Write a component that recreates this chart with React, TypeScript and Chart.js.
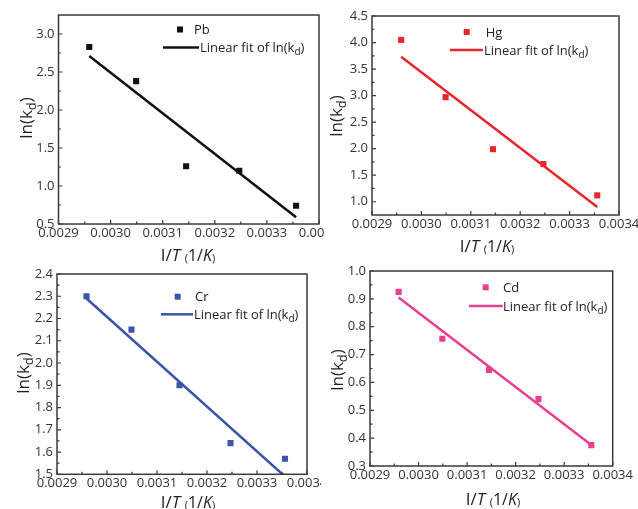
import React, { useEffect, useRef } from "react";
import { Chart, registerables } from "chart.js";
Chart.register(...registerables);

// ---- data ----
const invT = [0.002959, 0.003049, 0.003145, 0.003247, 0.003356];
const fitX = [0.002959, 0.003356];

const pbValues = [2.83, 2.38, 1.26, 1.2, 0.74];
const pbFit = [2.71, 0.59];
const hgValues = [4.05, 2.97, 1.99, 1.71, 1.12];
const hgFit = [3.73, 0.9];
const crValues = [2.3, 2.15, 1.9, 1.64, 1.57];
const crFit = [2.29, 1.49];
const cdValues = [0.925, 0.757, 0.645, 0.54, 0.375];
const cdFit = [0.905, 0.375];

const xMin = 0.0029;
const xMax = 0.0034;
const xStep = 0.0001;

const FONT = '"Open Sans", "DejaVu Sans", sans-serif';

type Part = { t: string; size: number; italic?: boolean; dy?: number };

function partsWidth(ctx: CanvasRenderingContext2D, parts: Part[]) {
  let w = 0;
  for (const p of parts) {
    ctx.font = `${p.italic ? "italic " : ""}${p.size}px ${FONT}`;
    w += ctx.measureText(p.t).width;
  }
  return w;
}

function drawParts(ctx: CanvasRenderingContext2D, parts: Part[], x: number, y: number) {
  let cx = x;
  ctx.textBaseline = "alphabetic";
  ctx.textAlign = "left";
  for (const p of parts) {
    ctx.font = `${p.italic ? "italic " : ""}${p.size}px ${FONT}`;
    ctx.fillText(p.t, cx, y + (p.dy || 0));
    cx += ctx.measureText(p.t).width;
  }
}

const yTitleParts: Part[] = [
  { t: "ln(k", size: 17 },
  { t: "d", size: 13, dy: 4 },
  { t: ")", size: 17 },
];
const xTitleParts: Part[] = [
  { t: "I/", size: 17 },
  { t: "T", size: 17, italic: true },
  { t: " ", size: 17 },
  { t: "(", size: 11, dy: 1 },
  { t: "1/", size: 16 },
  { t: "K", size: 16, italic: true },
  { t: ")", size: 11, dy: 1 },
];
const fitLegendParts: Part[] = [
  { t: "Linear fit of ln(k", size: 13 },
  { t: "d", size: 10, dy: 3 },
  { t: ")", size: 13 },
];

const decorPlugin = {
  id: "decor",
  afterDraw(chart: any, _args: any, opts: any) {
    const { ctx, chartArea: a, scales } = chart;
    const p = opts.p;
    ctx.save();
    ctx.strokeStyle = "#3a3a3a";
    ctx.lineWidth = 1.5;
    ctx.strokeRect(a.left, a.top, a.right - a.left, a.bottom - a.top);
    const xs = scales.x;
    const ys = scales.y;
    ctx.lineWidth = 1.2;
    ctx.beginPath();
    xs.ticks.forEach((t: any, i: number) => {
      const px = xs.getPixelForValue(t.value);
      ctx.moveTo(px, a.bottom);
      ctx.lineTo(px, a.bottom - 4);
      if (i < xs.ticks.length - 1) {
        const m = xs.getPixelForValue((t.value + xs.ticks[i + 1].value) / 2);
        ctx.moveTo(m, a.bottom);
        ctx.lineTo(m, a.bottom - 2.5);
      }
    });
    ys.ticks.forEach((t: any, i: number) => {
      const py = ys.getPixelForValue(t.value);
      ctx.moveTo(a.left, py);
      ctx.lineTo(a.left + 4, py);
      if (i < ys.ticks.length - 1) {
        const m = ys.getPixelForValue((t.value + ys.ticks[i + 1].value) / 2);
        ctx.moveTo(a.left, m);
        ctx.lineTo(a.left + 2.5, m);
      }
    });
    ctx.stroke();

    ctx.fillStyle = "#222";
    const xw = partsWidth(ctx, xTitleParts);
    drawParts(ctx, xTitleParts, p.xTitle.x - xw / 2, p.xTitle.y);
    const yw = partsWidth(ctx, yTitleParts);
    ctx.save();
    ctx.translate(p.yTitle.x, p.yTitle.y);
    ctx.rotate(-Math.PI / 2);
    drawParts(ctx, yTitleParts, -yw / 2, 0);
    ctx.restore();

    const L = p.legend;
    ctx.fillStyle = p.color;
    ctx.fillRect(L.mx - 3, L.my - 3, 6, 6);
    ctx.fillStyle = "#222";
    drawParts(ctx, [{ t: p.name, size: 13 }], L.tx, L.my + 4.5);
    ctx.strokeStyle = p.color;
    ctx.lineWidth = 2.5;
    ctx.beginPath();
    ctx.moveTo(L.lx1, L.ly);
    ctx.lineTo(L.lx2, L.ly);
    ctx.stroke();
    ctx.fillStyle = "#222";
    drawParts(ctx, fitLegendParts, L.ltx, L.ly + 4.5);
    ctx.restore();
  },
};

type PanelDef = {
  name: string;
  values: number[];
  fit: number[];
  color: string;
  yMin: number;
  yMax: number;
  yStep: number;
  box: { left: number; top: number; w: number; h: number };
  plot: { left: number; top: number; right: number; bottom: number };
  xTitle: { x: number; y: number };
  yTitle: { x: number; y: number };
  legend: { mx: number; my: number; tx: number; lx1: number; lx2: number; ly: number; ltx: number };
};

const panels: PanelDef[] = [
  {
    name: "Pb", values: pbValues, fit: pbFit, color: "#111111",
    yMin: 0.5, yMax: 3.25, yStep: 0.5,
    box: { left: 0, top: 0, w: 325, h: 268 },
    plot: { left: 58.5, top: 15, right: 319, bottom: 224 },
    xTitle: { x: 188, y: 261 },
    yTitle: { x: 32, y: 118 },
    legend: { mx: 180, my: 29.5, tx: 194, lx1: 163, lx2: 199, ly: 47.5, ltx: 200 },
  },
  {
    name: "Hg", values: hgValues, fit: hgFit, color: "#e8262b",
    yMin: 0.75, yMax: 4.5, yStep: 0.5,
    box: { left: 326, top: 0, w: 312, h: 262 },
    plot: { left: 46, top: 16, right: 293, bottom: 215 },
    xTitle: { x: 161, y: 252 },
    yTitle: { x: 16, y: 116 },
    legend: { mx: 140.7, my: 32, tx: 159.7, lx1: 124, lx2: 157, ly: 50, ltx: 158 },
  },
  {
    name: "Cr", values: crValues, fit: crFit, color: "#3b55a6",
    yMin: 1.5, yMax: 2.4, yStep: 0.1,
    box: { left: 0, top: 264, w: 321, h: 245 },
    plot: { left: 57, top: 10, right: 307, bottom: 210.3 },
    xTitle: { x: 188, y: 244 },
    yTitle: { x: 29, y: 109 },
    legend: { mx: 177.7, my: 32.7, tx: 195, lx1: 161, lx2: 193, ly: 50.3, ltx: 194 },
  },
  {
    name: "Cd", values: cdValues, fit: cdFit, color: "#e8408f",
    yMin: 0.3, yMax: 1.0, yStep: 0.1,
    box: { left: 322, top: 264, w: 316, h: 245 },
    plot: { left: 48, top: 7, right: 290.7, bottom: 202 },
    xTitle: { x: 171, y: 241 },
    yTitle: { x: 21, y: 106 },
    legend: { mx: 163.7, my: 23.3, tx: 181, lx1: 147, lx2: 180.7, ly: 42, ltx: 181 },
  },
];

function Panel({ p }: { p: PanelDef }) {
  const ref = useRef<HTMLCanvasElement | null>(null);
  useEffect(() => {
    if (!ref.current) return;
    const W = p.box.w;
    const H = p.box.h;
    const chart = new Chart(ref.current, {
      type: "scatter",
      data: {
        datasets: [
          {
            label: "fit",
            data: fitX.map((x, i) => ({ x, y: p.fit[i] })),
            showLine: true,
            borderColor: p.color,
            borderWidth: 2.5,
            pointRadius: 0,
          } as any,
          {
            label: p.name,
            data: invT.map((x, i) => ({ x, y: p.values[i] })),
            pointStyle: "rect",
            pointRadius: 4.3,
            pointBorderWidth: 0,
            backgroundColor: p.color,
            borderColor: p.color,
          } as any,
        ],
      },
      options: {
        responsive: false,
        animation: false,
        layout: { padding: { left: 0, top: p.plot.top, right: W - p.plot.right, bottom: 0 } },
        plugins: {
          legend: { display: false },
          tooltip: { enabled: false },
          decor: { p },
        } as any,
        scales: {
          x: {
            type: "linear",
            min: xMin,
            max: xMax,
            grid: { display: false, drawTicks: false },
            border: { display: false },
            ticks: {
              stepSize: xStep,
              autoSkip: false,
              maxRotation: 0,
              includeBounds: false,
              padding: 1,
              color: "#333",
              font: { family: FONT, size: 13 },
              callback: (v: any) => Number(v).toFixed(4),
            },
            afterFit: (s: any) => {
              s.height = H - p.plot.bottom;
              s.paddingLeft = 0;
              s.paddingRight = 0;
            },
          },
          y: {
            type: "linear",
            min: p.yMin,
            max: p.yMax,
            grid: { display: false, drawTicks: false },
            border: { display: false },
            ticks: {
              stepSize: p.yStep,
              autoSkip: false,
              includeBounds: false,
              padding: 4,
              color: "#333",
              font: { family: FONT, size: 13 },
              callback: (v: any) => Number(v).toFixed(1),
            },
            afterFit: (s: any) => {
              s.width = p.plot.left;
              s.paddingTop = 0;
              s.paddingBottom = 0;
            },
          },
        } as any,
      },
      plugins: [decorPlugin as any],
    });
    return () => chart.destroy();
  }, [p]);
  return (
    <div
      style={{
        position: "absolute",
        left: p.box.left,
        top: p.box.top,
        width: p.box.w,
        height: p.box.h,
        overflow: "hidden",
      }}
    >
      <canvas ref={ref} width={p.box.w} height={p.box.h} style={{ width: p.box.w, height: p.box.h, display: "block" }} />
    </div>
  );
}

export default function App() {
  return (
    <div
      style={{
        position: "absolute",
        left: 0,
        top: 0,
        width: 638,
        height: 509,
        background: "#fff",
        overflow: "hidden",
      }}
    >
      {panels.map((p) => (
        <Panel key={p.name} p={p} />
      ))}
    </div>
  );
}
